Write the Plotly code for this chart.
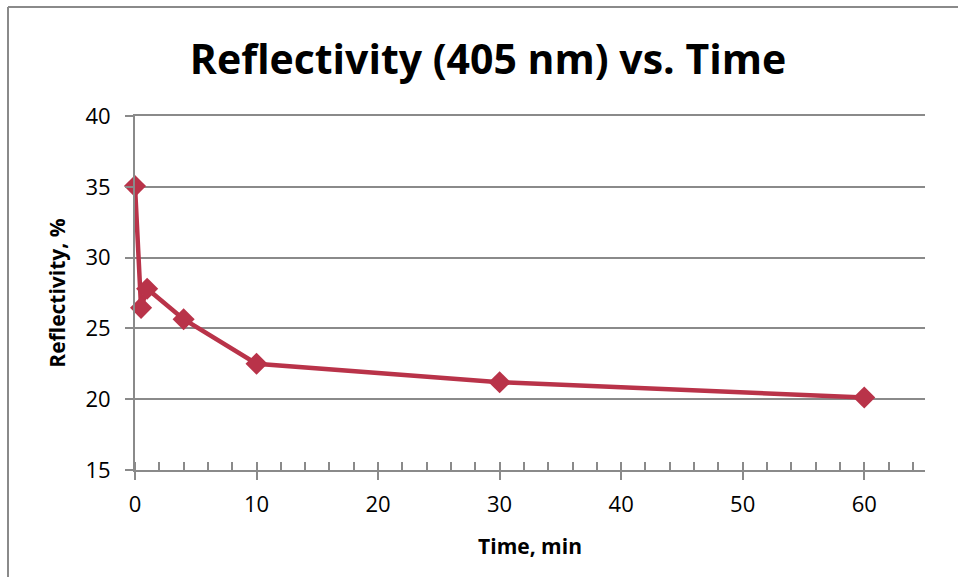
import plotly.graph_objects as go

# Reflectivity at 405 nm measured over time
time_min = [0, 0.5, 1, 4, 10, 30, 60]
reflectivity = [35.05, 26.45, 27.8, 25.65, 22.5, 21.2, 20.12]

x_ticks = [0, 10, 20, 30, 40, 50, 60]
y_ticks = [15, 20, 25, 30, 35, 40]

LINE_COLOR = "#B93349"
AXIS_GRAY = "#8A8A8A"
FONT = "Open Sans, Arial, sans-serif"

fig = go.Figure()
fig.add_trace(go.Scatter(
    x=time_min, y=reflectivity, mode="lines+markers",
    line=dict(color=LINE_COLOR, width=4.5),
    marker=dict(symbol="diamond", size=17, color=LINE_COLOR),
    showlegend=False, cliponaxis=False,
))
# overlay axis carrying the inner half of the major x ticks
fig.add_trace(go.Scatter(x=[None], y=[None], xaxis="x2", showlegend=False, hoverinfo="skip"))

fig.update_layout(
    width=958, height=577,
    margin=dict(l=135, r=33, t=116, b=107),
    paper_bgcolor="white", plot_bgcolor="white",
    font=dict(family=FONT, color="black"),
    title=dict(text="<b>Reflectivity (405 nm) vs. Time</b>", x=488 / 958, xanchor="center",
               xref="container", y=1 - 60 / 577, yanchor="middle",
               font=dict(family=FONT, size=41, color="black")),
    xaxis=dict(
        range=[0, 65], tickvals=x_ticks, ticktext=[str(v) for v in x_ticks],
        showgrid=False, zeroline=False,
        showline=True, mirror=True, linecolor=AXIS_GRAY, linewidth=1.5,
        ticks="outside", ticklen=8, tickwidth=2, tickcolor=AXIS_GRAY,
        ticklabelstandoff=6,
        minor=dict(dtick=2, ticks="inside", ticklen=8, tickwidth=1.5, tickcolor=AXIS_GRAY),
        tickfont=dict(size=22, family=FONT),
        title=dict(text="<b>Time, min</b>", font=dict(size=21, family=FONT), standoff=22),
    ),
    xaxis2=dict(
        overlaying="x", matches="x", side="bottom", range=[0, 65],
        tickvals=x_ticks, showticklabels=False, showgrid=False, zeroline=False,
        ticks="inside", ticklen=8, tickwidth=2, tickcolor=AXIS_GRAY,
    ),
    yaxis=dict(
        range=[15, 40], tickvals=y_ticks, ticktext=[str(v) for v in y_ticks],
        showgrid=True, gridcolor=AXIS_GRAY, gridwidth=1.5,
        zeroline=False, showline=True, linecolor=AXIS_GRAY, linewidth=2,
        ticks="outside", ticklen=8, tickwidth=1.5, tickcolor=AXIS_GRAY,
        ticklabelstandoff=10,
        tickfont=dict(size=22, family=FONT),
        title=dict(text="<b>Reflectivity, %</b>", font=dict(size=21, family=FONT), standoff=14),
    ),
    shapes=[
        # chart frame: top and left edges
        dict(type="line", xref="paper", yref="paper", layer="above",
             x0=-127 / 790, x1=900 / 790, y0=1 + 109 / 354, y1=1 + 109 / 354,
             line=dict(color=AXIS_GRAY, width=2)),
        dict(type="line", xref="paper", yref="paper", layer="above",
             x0=-127 / 790, x1=-127 / 790, y0=1 + 109 / 354, y1=-120 / 354,
             line=dict(color=AXIS_GRAY, width=2)),
    ],
)

fig.write_html("out.html")
